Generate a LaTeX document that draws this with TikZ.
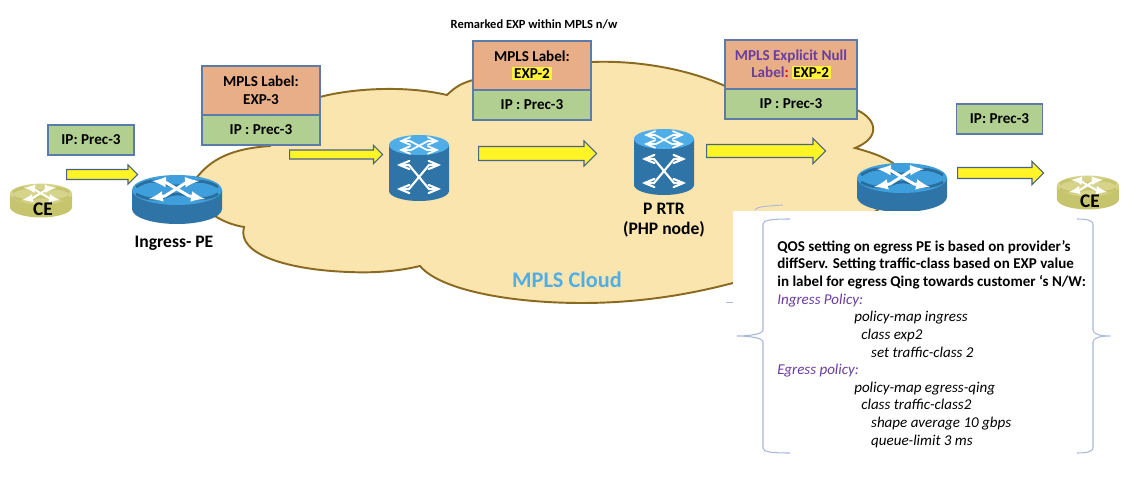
\documentclass[tikz,border=0pt]{standalone}
\usepackage{fontspec}
\setmainfont{Carlito}
\usepackage{xcolor}
\usetikzlibrary{shapes.arrows,arrows}
\definecolor{cloudfill}{HTML}{FBE5AE}
\definecolor{cloudedge}{HTML}{8A6A20}
\definecolor{hdrfill}{HTML}{E8AE87}
\definecolor{ipfill}{HTML}{B0CF91}
\definecolor{boxedge}{HTML}{5B7BA8}
\definecolor{bracecol}{HTML}{A9B8DC}
\definecolor{policycol}{HTML}{6A3DA0}
\definecolor{cloudtext}{HTML}{4FAEE6}
\definecolor{hlyellow}{HTML}{FFF23A}
\definecolor{rtrtop}{HTML}{3F9FDD}
\definecolor{rtrdark}{HTML}{2A6E9E}
\definecolor{rtrbody}{HTML}{2F74A6}
\definecolor{ptop}{HTML}{4FAEE8}
\definecolor{cetop}{HTML}{D6D38A}
\definecolor{cebody}{HTML}{C6C56E}
\newcommand{\hl}[1]{{\setlength{\fboxsep}{1pt}\colorbox{hlyellow}{#1}}}
\newcommand{\flatrtr}[4]{% top, body, wave, arrow width
	\fill[#2] (-45,0) -- (-45,19) arc[start angle=180,end angle=0,x radius=45,y radius=15] -- (45,0) -- cycle;
	\fill[#1] (0,0) ellipse[x radius=45,y radius=15];
	\draw[#3,line width=1.6pt] (-41,-3) .. controls (-30,-10) and (-22,-10) .. (-14,-7) .. controls (-6,-3) and (4,-3) .. (12,-7) .. controls (20,-10) and (32,-9) .. (41,-3);
	\draw[#3,line width=1.6pt] (-41,4) .. controls (-30,10) and (-22,10) .. (-12,7) .. controls (-4,3) and (6,3) .. (14,7) .. controls (22,10) and (32,9) .. (41,4);
	\draw[white,line width=#4,<->] (-25,-9) -- (-12,-8) -- (12,6) -- (28,9);
	\draw[white,line width=#4,<->] (22,-9) -- (10,-8) -- (-12,6) -- (-28,9);
}
\tikzset{
	pe rtr/.pic = {\flatrtr{rtrtop}{rtrbody}{rtrdark}{1.7pt}},
	ce rtr/.pic = {\begin{scope}[scale=.69]\flatrtr{cetop}{cebody}{cebody}{1.2pt}\end{scope}},
	p rtr/.pic = {
		\fill[rtrbody] (-30,0) -- (-30,46) arc[start angle=180,end angle=0,x radius=30,y radius=10] -- (30,0) -- cycle;
		\fill[ptop] (0,0) ellipse[x radius=30,y radius=10];
		\draw[white,line width=1pt,<->,>=angle 45] (-20,-4) -- (-9,-4) -- (8,5) -- (20,5);
		\draw[white,line width=1pt,<->,>=angle 45] (20,-4) -- (9,-4) -- (-8,5) -- (-20,5);
		\draw[white,line width=1.2pt,<->,>=angle 45] (-22,20) -- (-10,20) -- (10,44) -- (22,44);
		\draw[white,line width=1.2pt,<->,>=angle 45] (22,20) -- (10,20) -- (-10,44) -- (-22,44);
	}
}
\begin{document}
\begin{tikzpicture}[>=latex,x=.02cm,y=-.02cm,
	txt/.style = {font=\bfseries\fontsize{8.6}{10}\selectfont,align=center,inner sep=0pt},
	hdr/.style = {txt,draw=boxedge,fill=hdrfill,line width=.8pt,minimum width=2.36cm,minimum height=.98cm},
	ipbox/.style = {txt,draw=boxedge,fill=ipfill,line width=.8pt,minimum width=2.36cm,minimum height=.6cm},
	ipsmall/.style = {ipbox,minimum width=1.72cm},
	bigtxt/.style = {txt,font=\bfseries\fontsize{10}{11.3}\selectfont},
	yarrow/.style n args = {3}{single arrow,draw=boxedge!80!black,fill=yellow!85!white,line width=.6pt,anchor=tail,minimum height=#1*.02cm,inner xsep=0pt,inner ysep=#2*.01cm,minimum width=(#2+2*#3)*.02cm,single arrow head extend=#3*.02cm}
	]
	\useasboundingbox (0,0) rectangle (1144,490);
	%CLOUD
	\draw[cloudedge,fill=cloudfill,line width=1.1pt] (198,176) .. controls (215,155) and (240,148) .. (270,146)
		-- (290,100) -- (320,97) .. controls (345,90) and (400,84) .. (447,95)
		.. controls (455,87) and (462,83) .. (473,80) -- (500,60)
		-- (591,62) .. controls (640,60) and (690,70) .. (725,86) -- (760,60)
		-- (857,110) .. controls (878,120) and (880,138) .. (855,148)
		.. controls (870,152) and (882,156) .. (893,163) -- (893,200)
		-- (800,260) -- (733,283) .. controls (680,297) and (630,303) .. (582,303)
		.. controls (510,303) and (440,290) .. (420,266)
		.. controls (395,272) and (370,273) .. (349,272)
		.. controls (290,270) and (236,255) .. (244,227)
		.. controls (232,225) and (222,221) .. (210,213) -- (177,200) -- cycle;
	%ROUTERS
	\coordinate (pe1) at (177,190);
	\coordinate (pe2) at (902,178);
	\coordinate (ce1) at (41,194);
	\coordinate (ce2) at (1088,186);
	\coordinate (p1) at (419,145);
	\coordinate (p2) at (664,139);
	\pic at (pe1) {pe rtr};
	\pic at (pe2) {pe rtr};
	\pic at (ce1) {ce rtr};
	\pic at (ce2) {ce rtr};
	\pic at (p1) {p rtr};
	\pic at (p2) {p rtr};
	%LABEL BOXES
	\node[hdr] (hdr1) at (261,90.5) {MPLS Label:\\EXP-3};
	\node[ipbox] (ip1) at (261,130) {IP : Prec-3};
	\node[hdr] (hdr2) at (532,65.5) {MPLS Label:\\\hl{EXP-2}};
	\node[ipbox] (ip2) at (532,105) {IP : Prec-3};
	\node[hdr,minimum width=2.64cm] (hdr3) at (791,64.5) {\textcolor{policycol}{MPLS Explicit Null}\\\textcolor{policycol}{Label}\textcolor{red}{:}\hspace{-1pt} \hl{EXP-2}};
	\node[ipbox,minimum width=2.64cm] (ip3) at (791,104) {IP : Prec-3};
	\node[ipsmall] (ipin) at (91,140) {IP: Prec-3};
	\node[ipsmall] (ipout) at (999.5,119) {IP: Prec-3};
	%ARROWS
	\node[yarrow={71}{9}{4.5}] (a1) at (66,174.5) {};
	\node[yarrow={93}{8}{4.5}] (a2) at (289,154.5) {};
	\node[yarrow={118}{13}{5.5}] (a3) at (478,153.5) {};
	\node[yarrow={119}{12}{6}] (a4) at (706,151) {};
	\node[yarrow={86}{10}{6}] (a5) at (957,173) {};
	%NAMES
	\node[txt,font=\bfseries\fontsize{11}{13}\selectfont] (cename1) at (43,209) {CE};
	\node[txt,font=\bfseries\fontsize{11}{13}\selectfont] (cename2) at (1090,201) {CE};
	\node[bigtxt] (pename) at (174,243) {Ingress- PE};
	\node[bigtxt] (pname) at (664,220) {P RTR\\(PHP node)};
	\node[txt,font=\bfseries\fontsize{7.1}{8}\selectfont] (remark) at (534,24) {Remarked EXP within MPLS n/w};
	\node[txt,text=cloudtext,font=\bfseries\fontsize{12.7}{14}\selectfont] (cloudname) at (567,280) {MPLS Cloud};
	%NOTE
	\fill[white] (733,211) rectangle (1144,490);
	\draw[bracecol,line width=.5pt] (755,210) .. controls (757,206) and (770,206) .. (783,205);
	\draw[bracecol,line width=.5pt] (726,302) -- (733,302);
	\draw[bracecol,line width=.6pt] (790,219) .. controls (772,219) and (763,220) .. (763,224) -- (763,330) .. controls (763,334) and (750,336) .. (737,336) .. controls (750,336) and (763,338) .. (763,342) -- (763,448) .. controls (763,452) and (772,453) .. (790,453);
	\draw[bracecol,line width=.6pt] (1077,219) .. controls (1085,219) and (1093,220) .. (1093,224) -- (1093,330) .. controls (1093,334) and (1100,336) .. (1110,336) .. controls (1100,336) and (1093,338) .. (1093,342) -- (1093,448) .. controls (1093,452) and (1085,453) .. (1077,453);
	\node[anchor=north west,align=left,inner sep=0pt,font=\fontsize{8.55}{10.03}\selectfont] (note) at (777,240) {%
		\textbf{QOS setting on egress PE is based on provider’s}\\
		\textbf{diffServ. Setting traffic-class based on EXP value}\\
		\textbf{in label for egress Qing towards customer ‘s N/W:}\\
		\textcolor{policycol}{\itshape Ingress Policy:}\\
		\hspace*{43.8pt}\textit{policy-map ingress}\\
		\hspace*{47.8pt}\textit{class exp2}\\
		\hspace*{53.4pt}\textit{set traffic-class 2}\\
		\textcolor{policycol}{\itshape Egress policy:}\\
		\hspace*{43.8pt}\textit{policy-map egress-qing}\\
		\hspace*{47.8pt}\textit{class traffic-class2}\\
		\hspace*{53.4pt}\textit{shape average 10 gbps}\\
		\hspace*{53.4pt}\textit{queue-limit 3 ms}};
\end{tikzpicture}
\end{document}
